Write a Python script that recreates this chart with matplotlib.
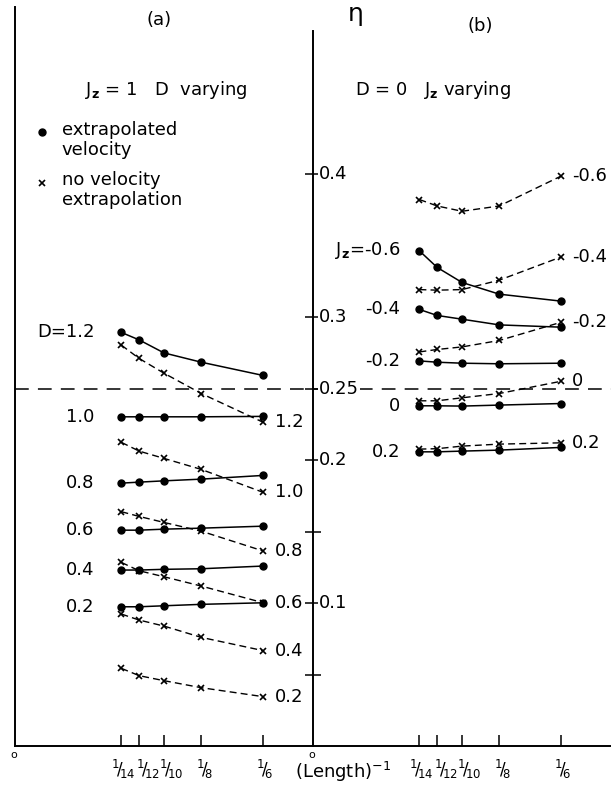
import matplotlib.pyplot as plt
import numpy as np

plt.rcParams['font.family'] = 'DejaVu Sans'
plt.rcParams['mathtext.default'] = 'regular'

# x values: inverse chain length
inv_length = [1/14, 1/12, 1/10, 1/8, 1/6]
inv_length_labels = ['$^{1}\\!/\\!_{14}$', '$^{1}\\!/\\!_{12}$', '$^{1}\\!/\\!_{10}$',
                     '$^{1}\\!/\\!_{8}$', '$^{1}\\!/\\!_{6}$']

# (a) Jz = 1, D varying
d_labels = ['D=1.2', '1.0', '0.8', '0.6', '0.4', '0.2']
d_end_labels = ['1.2', '1.0', '0.8', '0.6', '0.4', '0.2']
a_extrap = [
    [0.2893, 0.2841, 0.2750, 0.2685, 0.2592],
    [0.2303, 0.2303, 0.2303, 0.2303, 0.2306],
    [0.1839, 0.1846, 0.1855, 0.1867, 0.1893],
    [0.1510, 0.1510, 0.1517, 0.1524, 0.1538],
    [0.1231, 0.1231, 0.1236, 0.1240, 0.1259],
    [0.0974, 0.0974, 0.0981, 0.0991, 0.1002],
]
a_noextrap = [
    [0.2804, 0.2711, 0.2608, 0.2466, 0.2264],
    [0.2124, 0.2063, 0.2012, 0.1935, 0.1774],
    [0.1639, 0.1606, 0.1564, 0.1503, 0.1364],
    [0.1284, 0.1226, 0.1184, 0.1119, 0.1002],
    [0.0923, 0.0881, 0.0839, 0.0760, 0.0667],
    [0.0543, 0.0492, 0.0457, 0.0408, 0.0345],
]

# (b) D = 0, Jz varying
jz_labels = ['J$_{\\mathbf{z}}$=-0.6', '-0.4', '-0.2', '0', '0.2']
jz_end_labels = ['-0.6', '-0.4', '-0.2', '0', '0.2']
b_extrap = [
    [0.3464, 0.3348, 0.3243, 0.3161, 0.3112],
    [0.3054, 0.3012, 0.2986, 0.2946, 0.2930],
    [0.2694, 0.2685, 0.2678, 0.2674, 0.2678],
    [0.2380, 0.2380, 0.2378, 0.2385, 0.2396],
    [0.2058, 0.2058, 0.2063, 0.2070, 0.2089],
]
b_noextrap = [
    [0.3823, 0.3778, 0.3741, 0.3778, 0.3988],
    [0.3193, 0.3189, 0.3193, 0.3259, 0.3422],
    [0.2757, 0.2774, 0.2792, 0.2837, 0.2965],
    [0.2415, 0.2415, 0.2436, 0.2466, 0.2552],
    [0.2077, 0.2080, 0.2098, 0.2112, 0.2121],
]

eta_ticks = [0.05, 0.1, 0.15, 0.2, 0.25, 0.3, 0.4]
eta_labels = ['', '0.1', '', '0.2', '0.25', '0.3', '0.4']
eta_ref = 0.25

fs = 13
# small sideways nudges so the crowded fraction labels don't collide
label_shift = [0.0012, 0.0058, 0.0048, 0.002, 0.0005]

fig = plt.figure(figsize=(6.11, 7.90), dpi=100)
ax1 = fig.add_axes([15/611, 44/790, 298/611, 739/790])
ax2 = fig.add_axes([313/611, 44/790, 298/611, 739/790])

for ax in (ax1, ax2):
    ax.set_xlim(0, 0.2)
    ax.set_ylim(0, 0.517)
    ax.patch.set_alpha(0)
    ax.spines['top'].set_visible(False)
    ax.spines['right'].set_visible(False)
    ax.spines['left'].set_linewidth(1.4)
    ax.spines['bottom'].set_linewidth(1.4)
    ax.set_xticks(inv_length)
    ax.set_xticklabels([])
    ax.tick_params(axis='x', direction='in', length=8, width=1.1)
    for xv, lab, dx in zip(inv_length, inv_length_labels, label_shift):
        ax.text(xv + dx, -0.0165, lab, fontsize=12, ha='center', va='center')
    ax.axhline(eta_ref, color='k', lw=1.1, dashes=(9, 6), zorder=1)
    ax.text(-0.0008, -0.0063, 'o', fontsize=8, ha='center', va='center')

ax1.set_yticks([])
ax2.spines['left'].set_bounds(0, 0.5)
ax2.set_yticks(eta_ticks)
ax2.set_yticklabels([])
ax2.tick_params(axis='y', direction='inout', length=12, width=1.1)
for v, lab in zip(eta_ticks, eta_labels):
    if lab:
        ax2.text(0.004, v, lab, fontsize=fs, ha='left', va='center', zorder=3,
                 bbox=dict(facecolor='white', edgecolor='none', pad=0.5))

# panel (a)
for dot, cross, lab, elab in zip(a_extrap, a_noextrap, d_labels, d_end_labels):
    ax1.plot(inv_length, dot, 'k-', marker='o', ms=5, lw=1.1, zorder=4)
    ax1.plot(inv_length, cross, 'k', ls=(0, (5, 3)), marker='x', ms=5, mew=1.2, lw=1.0, zorder=4)
    ax1.text(inv_length[0] - 0.018, dot[0], lab, fontsize=fs, ha='right', va='center')
    ax1.text(inv_length[-1] + 0.008, cross[-1], elab, fontsize=fs, ha='left', va='center')

ax1.text(0.097, 0.508, '(a)', fontsize=fs, ha='center', va='center')
ax1.text(0.047, 0.4587, 'J$_{\\mathbf{z}}$ = 1   D  varying', fontsize=fs, ha='left', va='center')
ax1.plot(0.018, 0.4294, 'ko', ms=5)
ax1.text(0.0315, 0.4308, 'extrapolated', fontsize=fs, ha='left', va='center')
ax1.text(0.0315, 0.4168, 'velocity', fontsize=fs, ha='left', va='center')
ax1.plot(0.018, 0.3937, 'kx', ms=5, mew=1.2)
ax1.text(0.0315, 0.3958, 'no velocity', fontsize=fs, ha='left', va='center')
ax1.text(0.0315, 0.3818, 'extrapolation', fontsize=fs, ha='left', va='center')

# panel (b)
for dot, cross, lab, elab in zip(b_extrap, b_noextrap, jz_labels, jz_end_labels):
    ax2.plot(inv_length, dot, 'k-', marker='o', ms=5, lw=1.1, zorder=4)
    ax2.plot(inv_length, cross, 'k', ls=(0, (5, 3)), marker='x', ms=5, mew=1.2, lw=1.0, zorder=4)
    ax2.text(inv_length[0] - 0.013, dot[0], lab, fontsize=fs, ha='right', va='center')
    ax2.text(inv_length[-1] + 0.007, cross[-1], elab, fontsize=fs, ha='left', va='center')

ax2.text(0.028, 0.511, '$\\eta$', fontsize=18, ha='center', va='center')
ax2.text(0.112, 0.504, '(b)', fontsize=fs, ha='center', va='center')
ax2.text(0.028, 0.4587, 'D = 0   J$_{\\mathbf{z}}$ varying', fontsize=fs, ha='left', va='center')
ax2.text(0.020, -0.018, '(Length)$^{-1}$', fontsize=fs, ha='center', va='center')

plt.savefig('out.png', dpi=100)
